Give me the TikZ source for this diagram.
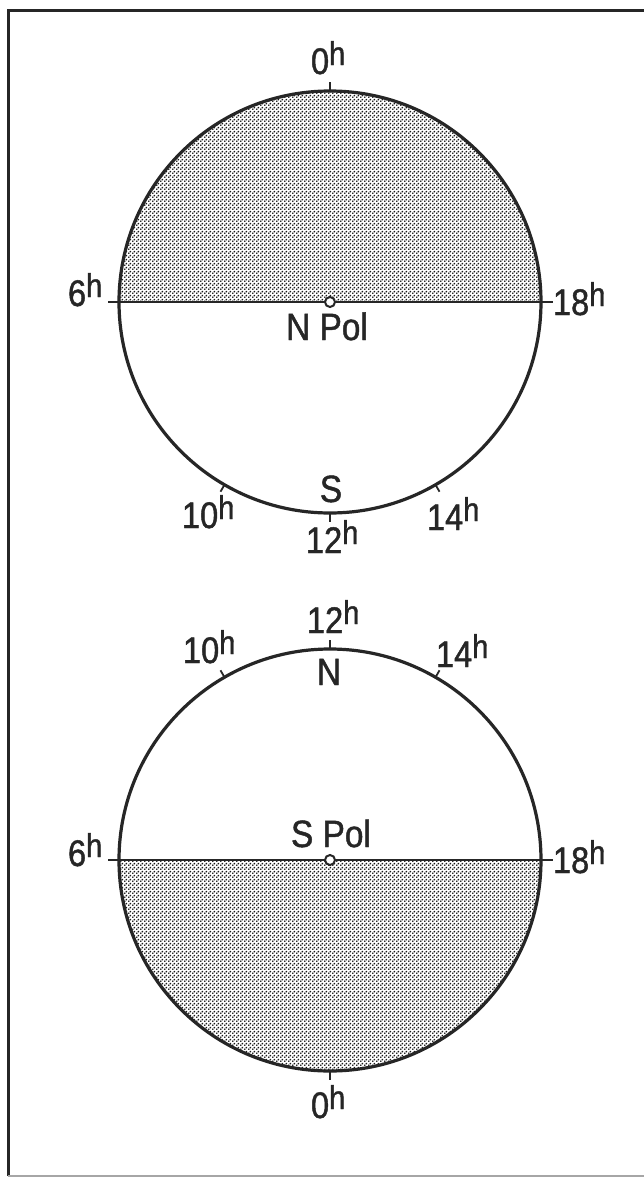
\documentclass[tikz,border=0pt]{standalone}
\usepackage{fontspec}
\usetikzlibrary{patterns.meta,calc}
\newfontfamily\labfont[FakeStretch=0.88,FakeBold=1.2]{Liberation Sans}
\newcommand{\hlab}[1]{\labfont\fontsize{37pt}{40pt}\selectfont #1\raisebox{9pt}{\fontsize{33pt}{36pt}\selectfont h}}
\newcommand{\tlab}[1]{\labfont\fontsize{38pt}{40pt}\selectfont #1}
\tikzdeclarepattern{
  name=stipple, type=uncolored,
  bottom left={(0pt,0pt)}, top right={(4pt,4pt)}, tile size={(4pt,4pt)},
  code={\fill (1pt,1pt) circle (1.15pt); \fill (3pt,3pt) circle (1.15pt);}
}
\tikzset{
  globe/.style={line width=3.2pt, black!85},
  axis/.style={line width=2.5pt, black!85},
  tick/.style={line width=1.8pt, black!85},
  pole/.style={circle, draw=black!85, line width=2pt, fill=white, minimum size=10pt, inner sep=0pt},
  shade/.style={pattern=stipple, pattern color=black!90},
  lab/.style={inner sep=0pt, outer sep=0pt, text=black!85},
}
\begin{document}
\begin{tikzpicture}[x=1pt,y=-1pt]
\useasboundingbox (0,0) rectangle (643,1178);
\fill[white] (0,0) rectangle (643,1178);
% frame
\coordinate (fbl) at (8,1176);
\coordinate (ftl) at (8,10);
\coordinate (ftr) at (645,10);
\coordinate (fbr) at (645,1176);
\draw[line width=3pt, black!85] (fbl) -- (ftl) -- (ftr);
\draw[line width=2pt, black!35] (fbl) -- (fbr);

% ---------- top globe ----------
\coordinate (C1) at (330,302);
\fill[shade] ($(C1)+(-211,0)$) arc[start angle=180, end angle=360, radius=211] -- cycle;
\draw[globe] (C1) circle[radius=211];
\coordinate (L1) at (108,302);
\coordinate (R1) at (553,302);
\draw[axis] (L1) -- (R1);
\node[pole] (P1) at (C1) {};
\coordinate (t0a) at ($(C1)+(270:211)$); \coordinate (t0b) at ($(C1)+(270:220)$);
\coordinate (t12a) at ($(C1)+(90:211)$); \coordinate (t12b) at ($(C1)+(90:220)$);
\coordinate (t10a) at ($(C1)+(120:211)$); \coordinate (t10b) at ($(C1)+(120:219)$);
\coordinate (t14a) at ($(C1)+(60:211)$); \coordinate (t14b) at ($(C1)+(60:219)$);
\draw[tick] (t0a) -- (t0b);
\draw[tick] (t12a) -- (t12b);
\draw[tick] (t10a) -- (t10b);
\draw[tick] (t14a) -- (t14b);
\node[lab, anchor=base west] (a0) at (311,74) {\hlab{0}};
\node[lab, anchor=base west] (a6) at (68,306) {\hlab{6}};
\node[lab, anchor=base west] (a18) at (553,315) {\hlab{18}};
\node[lab, anchor=base] (npol) at (327,340) {\tlab{N Pol}};
\node[lab, anchor=base] (s1) at (331,502) {\tlab{S}};
\node[lab, anchor=base west] (a10) at (182,528) {\hlab{10}};
\node[lab, anchor=base west] (a14) at (427,530) {\hlab{14}};
\node[lab, anchor=base west] (a12) at (306,553) {\hlab{12}};

% ---------- bottom globe ----------
\coordinate (C2) at (330,860);
\fill[shade] ($(C2)+(-211,0)$) arc[start angle=180, end angle=0, radius=211] -- cycle;
\draw[globe] (C2) circle[radius=211];
\coordinate (L2) at (108,860);
\coordinate (R2) at (553,860);
\draw[axis] (L2) -- (R2);
\node[pole] (P2) at (C2) {};
\coordinate (u12a) at ($(C2)+(270:211)$); \coordinate (u12b) at ($(C2)+(270:220)$);
\coordinate (u0a) at ($(C2)+(90:211)$); \coordinate (u0b) at ($(C2)+(90:220)$);
\coordinate (u10a) at ($(C2)+(240:211)$); \coordinate (u10b) at ($(C2)+(240:219)$);
\coordinate (u14a) at ($(C2)+(300:211)$); \coordinate (u14b) at ($(C2)+(300:219)$);
\draw[tick] (u12a) -- (u12b);
\draw[tick] (u0a) -- (u0b);
\draw[tick] (u10a) -- (u10b);
\draw[tick] (u14a) -- (u14b);
\node[lab, anchor=base west] (b12) at (307,633) {\hlab{12}};
\node[lab, anchor=base west] (b10) at (183,663) {\hlab{10}};
\node[lab, anchor=base west] (b14) at (436,667) {\hlab{14}};
\node[lab, anchor=base] (n2) at (329,685) {\tlab{N}};
\node[lab, anchor=base west] (spol) at (291,847) {\tlab{S Pol}};
\node[lab, anchor=base west] (b6) at (68,866) {\hlab{6}};
\node[lab, anchor=base west] (b18) at (553,873) {\hlab{18}};
\node[lab, anchor=base west] (b0) at (311,1118) {\hlab{0}};
\end{tikzpicture}
\end{document}
